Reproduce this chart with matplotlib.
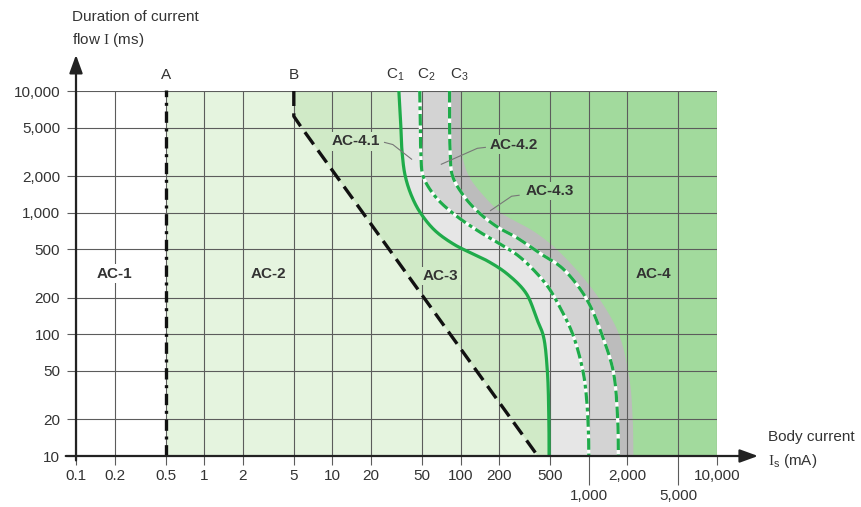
import numpy as np
import matplotlib
matplotlib.use("Agg")
import matplotlib.pyplot as plt

plt.rcParams['font.family'] = ['Liberation Sans', 'DejaVu Sans']
plt.rcParams['mathtext.fontset'] = 'custom'
plt.rcParams['mathtext.rm'] = 'Liberation Serif'
plt.rcParams['mathtext.sf'] = 'Liberation Sans'
plt.rcParams['mathtext.it'] = 'Liberation Sans:italic'

# ---------------- data ----------------
x_ticks = [0.1, 0.2, 0.5, 1, 2, 5, 10, 20, 50, 100, 200, 500, 2000, 10000]
x_tick_labels = ['0.1', '0.2', '0.5', '1', '2', '5', '10', '20', '50', '100', '200', '500', '2,000', '10,000']
x_ticks_low = [1000, 5000]
x_tick_labels_low = ['1,000', '5,000']
y_ticks = [10, 20, 50, 100, 200, 500, 1000, 2000, 5000, 10000]
y_tick_labels = ['10', '20', '50', '100', '200', '500', '1,000', '2,000', '5,000', '10,000']

A_x = 0.5
B_x = [5, 5, 5.6, 400]
B_y = [10000, 6200, 5200, 10]

C1_x = [33, 34, 35, 37, 41.5, 48.5, 63, 89, 127, 162, 230, 324, 395, 442, 475, 488, 490]
C1_y = [10000, 5800, 3100, 2000, 1370, 1000, 714, 548, 454, 401, 315, 218, 132, 97, 50, 20, 10]

C2_x = [48, 48.5, 49, 51, 63, 86, 135, 206, 273, 355, 480, 590, 750, 900, 960, 995, 1000]
C2_y = [10000, 5800, 3100, 2000, 1370, 1000, 714, 548, 454, 355, 246, 170, 100, 50, 30, 15, 10]

C3_x = [82, 82, 83, 86.5, 106, 139, 194, 273, 429, 612, 832, 1030, 1250, 1550, 1680, 1700]
C3_y = [10000, 5800, 3100, 2000, 1370, 1000, 762, 625, 454, 355, 246, 170, 103, 50, 20, 10]

OB_x = [100, 100, 102, 116, 152, 206, 257, 362, 509, 692, 940, 1270, 1720, 2075, 2200, 2230]
OB_y = [10000, 5000, 3100, 2000, 1370, 1000, 870, 714, 548, 401, 278, 181, 100, 43, 20, 10]

zone_labels = ['AC-1', 'AC-2', 'AC-3', 'AC-4']
zone_x = [0.2, 3.16, 70, 3190]
zone_y = [316, 316, 300, 316]

# ---------------- style ----------------
COL_AC2 = '#e5f4df'
COL_AC3 = '#d0eac7'
COL_AC4 = '#a2da9d'
COL_G1 = '#e6e6e6'
COL_G2 = '#d3d3d3'
COL_G3 = '#bcbcbc'
GREEN = '#1fab4a'
TXT = '#333333'
GRID = '#5c5c5c'


def smooth(xs, ys, n=16):
    """Centripetal Catmull-Rom path through the read points (log-log space)."""
    P = np.column_stack([np.log10(xs), np.log10(ys)])
    P = np.vstack([2 * P[0] - P[1], P, 2 * P[-1] - P[-2]])
    out = []
    for i in range(1, len(P) - 2):
        p0, p1, p2, p3 = P[i - 1], P[i], P[i + 1], P[i + 2]
        t0 = 0.0
        t1 = t0 + np.linalg.norm(p1 - p0) ** 0.5
        t2 = t1 + np.linalg.norm(p2 - p1) ** 0.5
        t3 = t2 + np.linalg.norm(p3 - p2) ** 0.5
        t = np.linspace(t1, t2, n, endpoint=False)[:, None]
        A1 = (t1 - t) / (t1 - t0) * p0 + (t - t0) / (t1 - t0) * p1
        A2 = (t2 - t) / (t2 - t1) * p1 + (t - t1) / (t2 - t1) * p2
        A3 = (t3 - t) / (t3 - t2) * p2 + (t - t2) / (t3 - t2) * p3
        B1 = (t2 - t) / (t2 - t0) * A1 + (t - t0) / (t2 - t0) * A2
        B2 = (t3 - t) / (t3 - t1) * A2 + (t - t1) / (t3 - t1) * A3
        out.append((t2 - t) / (t2 - t1) * B1 + (t - t1) / (t2 - t1) * B2)
    out.append(P[-2][None, :])
    pts = np.vstack(out)
    return 10 ** pts[:, 0], 10 ** pts[:, 1]


fig = plt.figure(figsize=(8.61, 5.07), dpi=100)
ax = fig.add_axes([76 / 861, 1 - 456 / 507, 641 / 861, 365 / 507])
ax.set_xscale('log')
ax.set_yscale('log')
XMIN, XMAX, YMIN, YMAX = 0.1, 10000, 10, 10000
ax.set_xlim(XMIN, XMAX)
ax.set_ylim(YMIN, YMAX)

c1x, c1y = smooth(C1_x, C1_y)
c2x, c2y = smooth(C2_x, C2_y)
c3x, c3y = smooth(C3_x, C3_y)
obx, oby = smooth(OB_x, OB_y)

# ---------------- fills ----------------
ax.axvspan(A_x, XMAX, color=COL_AC2, lw=0, zorder=1)


def fill_right(xs, ys, color, z):
    px = list(xs) + [XMAX, XMAX]
    py = list(ys) + [YMIN, YMAX]
    ax.fill(px, py, color=color, lw=0, zorder=z)


fill_right(B_x, B_y, COL_AC3, 1.1)
fill_right(c1x, c1y, COL_G1, 1.2)
fill_right(c2x, c2y, COL_G2, 1.3)
fill_right(c3x, c3y, COL_G3, 1.4)
fill_right(obx, oby, COL_AC4, 1.5)

# ---------------- grid / ticks ----------------
ax.set_xticks(x_ticks)
ax.set_xticklabels(x_tick_labels)
ax.set_xticks(x_ticks_low, minor=True)
ax.set_xticklabels(x_tick_labels_low, minor=True)
ax.set_yticks(y_ticks)
ax.set_yticklabels(y_tick_labels)
ax.set_yticks([], minor=True)
ax.grid(True, which='both', color=GRID, lw=0.8, zorder=2)
ax.set_axisbelow(False)
for s in ax.spines.values():
    s.set_visible(False)
ax.tick_params(axis='x', which='major', length=6.5, width=0.8, color=GRID,
               pad=3, labelsize=11, labelcolor=TXT)
ax.tick_params(axis='x', which='minor', length=21, width=0.8, color=GRID,
               pad=3, labelsize=11, labelcolor=TXT)
ax.tick_params(axis='y', which='major', length=6.5, width=0.8, color=GRID,
               pad=5, labelsize=11, labelcolor=TXT)

# ---------------- curves ----------------
ax.plot([A_x, A_x], [YMIN, YMAX * 1.02], color='#111111', lw=2.4,
        linestyle=(0, (3.4, 1.7, 0.9, 1.7)), zorder=4, clip_on=False)
ax.plot(B_x, B_y, color='#111111', lw=2.4, linestyle=(0, (4.5, 2.2)),
        zorder=4, clip_on=False)

ax.plot(c1x, c1y, color=GREEN, lw=2.3, zorder=5, solid_capstyle='butt')
ax.plot(c2x, c2y, color='white', lw=2.3, zorder=5)
ax.plot(c2x, c2y, color=GREEN, lw=2.3, zorder=6,
        linestyle=(0, (3.6, 1.2, 1.2, 1.2)), dash_capstyle='butt')
ax.plot(c3x, c3y, color='white', lw=2.3, zorder=5)
ax.plot(c3x, c3y, color=GREEN, lw=2.3, zorder=6,
        linestyle=(0, (3.6, 1.4)), dash_capstyle='butt')

# ---------------- curve labels ----------------
ax.text(A_x, 13500, 'A', ha='center', va='center', fontsize=11, color=TXT)
ax.text(B_x[0], 13500, 'B', ha='center', va='center', fontsize=11, color=TXT)
ax.text(C1_x[0] * 0.93, 13500, r'C$_{\mathsf{1}}$', ha='center', va='center', fontsize=11, color=TXT)
ax.text(C2_x[0] * 1.13, 13500, r'C$_{\mathsf{2}}$', ha='center', va='center', fontsize=11, color=TXT)
ax.text(C3_x[0] * 1.18, 13500, r'C$_{\mathsf{3}}$', ha='center', va='center', fontsize=11, color=TXT)

# ---------------- zone labels ----------------
zone_bg = ['white', COL_AC2, COL_AC3, COL_AC4]
for lab, zx, zy, bg in zip(zone_labels, zone_x, zone_y, zone_bg):
    ax.text(zx, zy, lab, ha='center', va='center', fontsize=11, fontweight='bold',
            color=TXT, zorder=7,
            bbox=dict(facecolor=bg, edgecolor='none', pad=1.5))

# sub-zone labels with leader lines
ax.plot([25.5, 29.6, 41.5], [3780, 3630, 2750], color='#777777', lw=0.8, zorder=7)
ax.text(15.1, 3850, 'AC-4.1', ha='center', va='center', fontsize=11, fontweight='bold',
        color=TXT, zorder=8, bbox=dict(facecolor=COL_AC3, edgecolor='none', pad=1.5))
ax.plot([156, 135, 70.7], [3440, 3380, 2500], color='#777777', lw=0.8, zorder=7)
ax.text(262, 3630, 'AC-4.2', ha='center', va='center', fontsize=11, fontweight='bold',
        color=TXT, zorder=8, bbox=dict(facecolor=COL_AC4, edgecolor='none', pad=1.5))
ax.plot([286, 250, 171], [1390, 1365, 1040], color='#777777', lw=0.8, zorder=7)
ax.text(500, 1500, 'AC-4.3', ha='center', va='center', fontsize=11, fontweight='bold',
        color=TXT, zorder=8, bbox=dict(facecolor=COL_AC4, edgecolor='none', pad=1.5))

# ---------------- axes arrows ----------------
arrow = dict(arrowstyle='-|>,head_length=0.55,head_width=0.2', lw=1.6,
             color='#222222', shrinkA=0, shrinkB=0, mutation_scale=20)
ax.annotate('', xy=(1.064, 0), xytext=(-0.016, 0), xycoords='axes fraction',
            arrowprops=arrow, zorder=9)
ax.annotate('', xy=(0, 1.099), xytext=(0, -0.012), xycoords='axes fraction',
            arrowprops=arrow, zorder=9)

# ---------------- axis titles ----------------
fig.text(72 / 861, 1 - 17 / 507, 'Duration of current', ha='left', va='center',
         fontsize=11, color=TXT)
fig.text(72 / 861, 1 - 40 / 507, r'flow $\mathrm{I}$ (ms)', ha='left', va='center',
         fontsize=11, color=TXT)
fig.text(768 / 861, 1 - 437 / 507, 'Body current', ha='left', va='center',
         fontsize=11, color=TXT)
fig.text(768 / 861, 1 - 461 / 507, r'$\mathrm{I}_{\mathsf{s}}$ (mA)', ha='left', va='center',
         fontsize=11, color=TXT)

fig.savefig('out.png', dpi=100)
